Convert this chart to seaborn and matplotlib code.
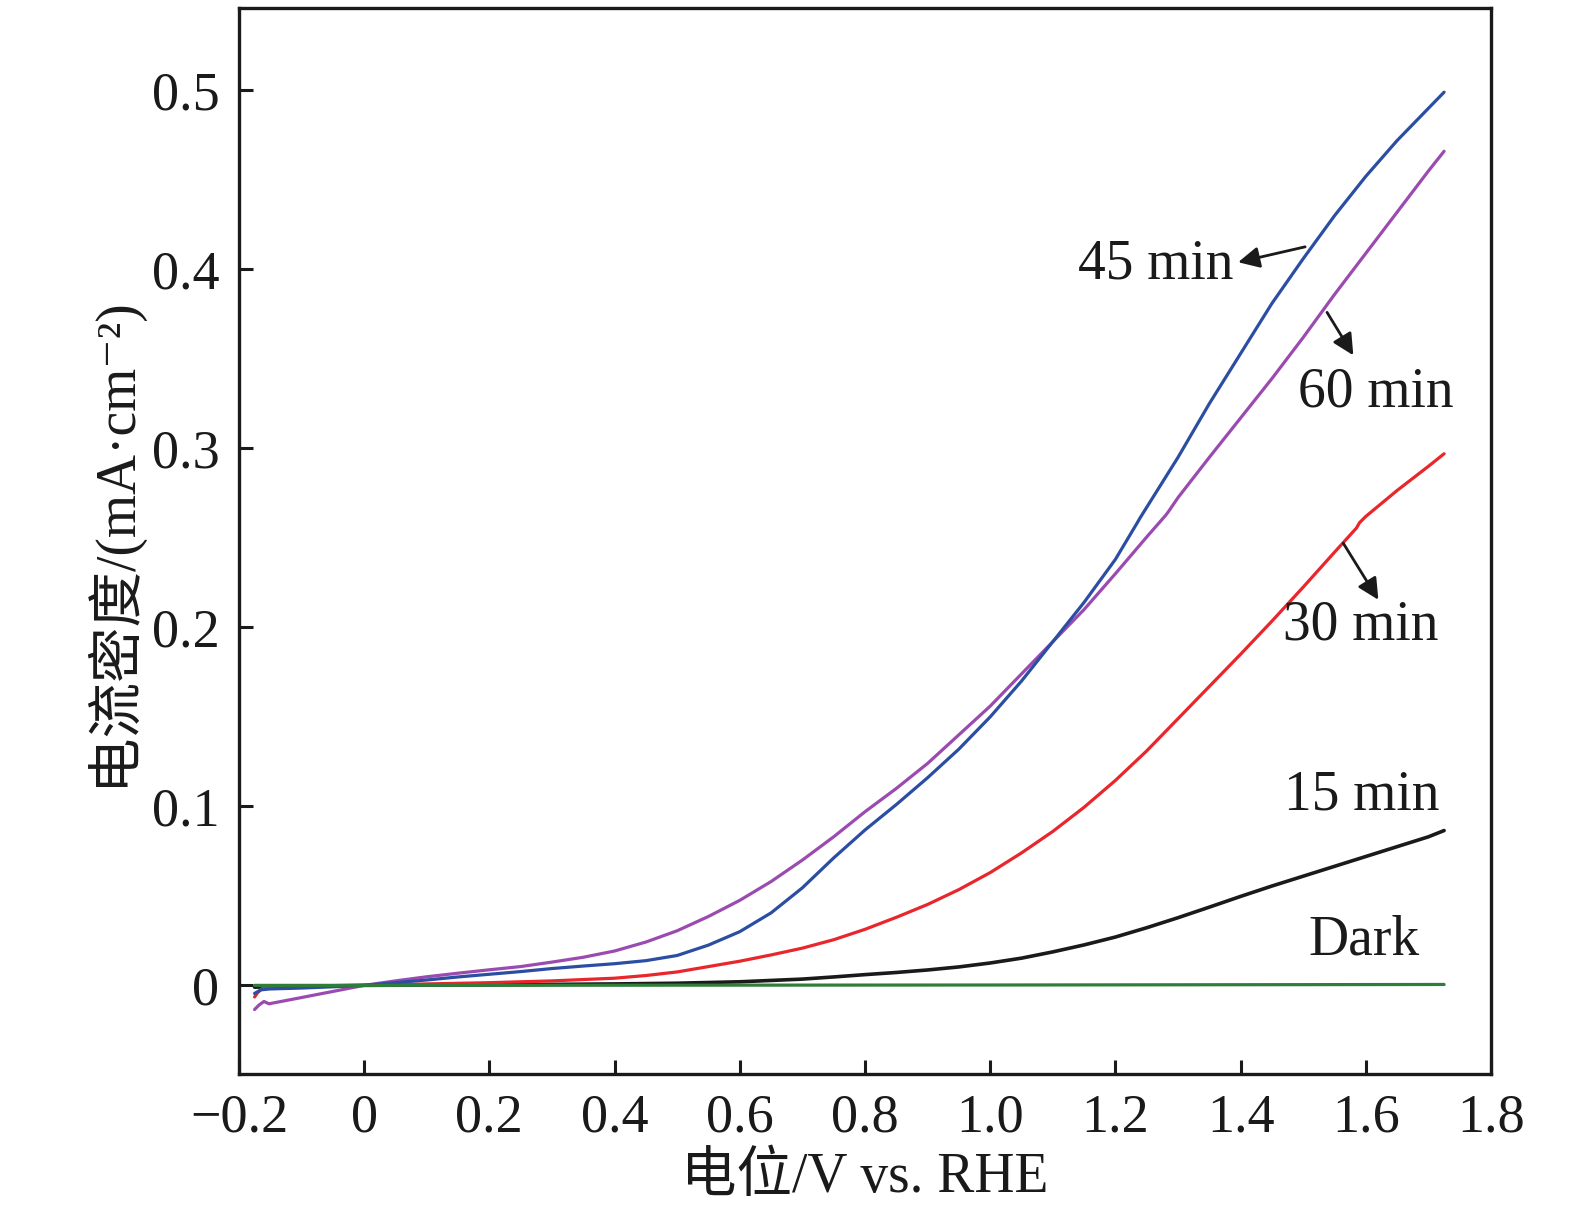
import numpy as np
import pandas as pd
import matplotlib
matplotlib.use("Agg")
import matplotlib.pyplot as plt
import seaborn as sns

# ---------------- data ----------------
x_dark = [-0.175, 0.0, 0.5, 1.0, 1.5, 1.725]
y_dark = [0.0, 0.0, 0.0001, 0.0002, 0.0004, 0.0005]

x_15 = [-0.175, -0.1, 0.0, 0.2, 0.4, 0.5, 0.6, 0.7, 0.75, 0.8, 0.85, 0.9, 0.95, 1.0, 1.05, 1.1,
        1.15, 1.2, 1.25, 1.3, 1.35, 1.4, 1.45, 1.5, 1.55, 1.6, 1.65, 1.7, 1.725]
y_15 = [-0.001, -0.0005, 0.0, 0.0003, 0.0008, 0.0012, 0.002, 0.0035, 0.0047, 0.006, 0.0072, 0.0086,
        0.0103, 0.0125, 0.0152, 0.0187, 0.0226, 0.027, 0.0322, 0.0378, 0.0437, 0.0497, 0.0555,
        0.061, 0.0665, 0.072, 0.0775, 0.083, 0.0865]

x_30 = [-0.175, -0.17, -0.16, -0.1, 0.0, 0.1, 0.2, 0.3, 0.4, 0.45, 0.5, 0.55, 0.6, 0.65, 0.7, 0.75,
        0.8, 0.85, 0.9, 0.95, 1.0, 1.05, 1.1, 1.15, 1.2, 1.25, 1.3, 1.35, 1.4, 1.45, 1.5, 1.55,
        1.585, 1.59, 1.6, 1.65, 1.7, 1.725]
y_30 = [-0.0065, -0.004, -0.001, -0.0005, 0.0, 0.0008, 0.0015, 0.0025, 0.004, 0.0055, 0.0075, 0.0105,
        0.0135, 0.017, 0.0208, 0.0255, 0.0313, 0.038, 0.0452, 0.0535, 0.063, 0.074, 0.086, 0.0995,
        0.1145, 0.131, 0.149, 0.167, 0.185, 0.2035, 0.2225, 0.242, 0.2555, 0.2585, 0.262, 0.2765,
        0.290, 0.297]

x_45 = [-0.175, -0.165, -0.15, -0.1, -0.05, 0.0, 0.05, 0.1, 0.15, 0.2, 0.25, 0.3, 0.35, 0.4, 0.45,
        0.5, 0.55, 0.6, 0.65, 0.7, 0.75, 0.8, 0.85, 0.9, 0.95, 1.0, 1.05, 1.1, 1.15, 1.2, 1.235,
        1.24, 1.3, 1.35, 1.4, 1.45, 1.5, 1.55, 1.6, 1.65, 1.7, 1.725]
y_45 = [-0.0045, -0.0025, -0.002, -0.0015, -0.0008, 0.0, 0.0015, 0.003, 0.0047, 0.0062, 0.0077,
        0.0094, 0.0108, 0.0121, 0.0138, 0.0167, 0.0225, 0.0300, 0.0405, 0.0545, 0.0712, 0.0868,
        0.101, 0.116, 0.132, 0.150, 0.170, 0.192, 0.214, 0.238, 0.2585, 0.2615, 0.295, 0.325, 0.353,
        0.381, 0.406, 0.430, 0.452, 0.472, 0.490, 0.499]

x_60 = [-0.175, -0.168, -0.16, -0.152, -0.1, -0.05, 0.0, 0.05, 0.1, 0.15, 0.2, 0.25, 0.3, 0.35, 0.4,
        0.45, 0.5, 0.55, 0.6, 0.65, 0.7, 0.75, 0.8, 0.85, 0.9, 0.95, 1.0, 1.05, 1.1, 1.15, 1.2,
        1.25, 1.28, 1.285, 1.3, 1.35, 1.4, 1.45, 1.5, 1.55, 1.6, 1.65, 1.7, 1.725]
y_60 = [-0.0135, -0.011, -0.009, -0.0103, -0.0068, -0.0034, 0.0, 0.0025, 0.0048, 0.0068, 0.0087,
        0.0105, 0.013, 0.0157, 0.0192, 0.0242, 0.0305, 0.0385, 0.0475, 0.058, 0.070, 0.083, 0.097,
        0.110, 0.124, 0.140, 0.156, 0.174, 0.192, 0.210, 0.230, 0.2505, 0.2625, 0.2648, 0.2725,
        0.295, 0.317, 0.339, 0.362, 0.386, 0.409, 0.432, 0.455, 0.466]

series_names = ["15 min", "30 min", "60 min", "45 min", "Dark"]
series_colors = ["#1a1a1a", "#e8262b", "#9b4bb0", "#2b4ea3", "#2f7d3a"]

x_ticks = [-0.2, 0.0, 0.2, 0.4, 0.6, 0.8, 1.0, 1.2, 1.4, 1.6, 1.8]
x_ticklabels = ["\u22120.2", "0", "0.2", "0.4", "0.6", "0.8", "1.0", "1.2", "1.4", "1.6", "1.8"]
y_ticks = [0.0, 0.1, 0.2, 0.3, 0.4, 0.5]
y_ticklabels = ["0", "0.1", "0.2", "0.3", "0.4", "0.5"]

x_label = "电位/V vs. RHE"
y_label = "电流密度/(mA·cm⁻²)"

# ---------------- build frame ----------------
frames = []
for name, xs, ys in [("15 min", x_15, y_15), ("30 min", x_30, y_30), ("60 min", x_60, y_60),
                     ("45 min", x_45, y_45), ("Dark", x_dark, y_dark)]:
    frames.append(pd.DataFrame({"E": xs, "J": ys, "series": name}))
df = pd.concat(frames, ignore_index=True)

# ---------------- style ----------------
sns.set_style("ticks")
fam = ["Liberation Serif", "Noto Sans CJK SC", "DejaVu Serif"]
plt.rcParams["font.family"] = fam
plt.rcParams["axes.unicode_minus"] = True

fig = plt.figure(figsize=(15.75, 12.2), dpi=100)
ax = fig.add_axes([0.1517, 0.1197, 0.795, 0.8737])

for name, col in zip(series_names, series_colors):
    sub = df[df["series"] == name]
    lw = 2.6 if name == "15 min" else 2.3
    sns.lineplot(data=sub, x="E", y="J", color=col, lw=lw, ax=ax,
                 sort=False, estimator=None, legend=False)

ax.set_xlim(-0.2, 1.8)
ax.set_ylim(-0.0495, 0.546)
ax.set_xticks(x_ticks)
ax.set_xticklabels(x_ticklabels)
ax.set_yticks(y_ticks)
ax.set_yticklabels(y_ticklabels)

for s in ax.spines.values():
    s.set_visible(True)
    s.set_linewidth(2.4)
    s.set_color("#1a1a1a")
ax.tick_params(axis="both", direction="in", length=10, width=2.2, colors="#1a1a1a",
               labelsize=39, top=False, right=False)
ax.tick_params(axis="x", pad=14)
ax.tick_params(axis="y", pad=14)

ax.set_xlabel(x_label, fontsize=40, labelpad=6, color="#1a1a1a")
ax.set_ylabel(y_label, fontsize=40, labelpad=8, color="#1a1a1a")

# ---------------- annotations ----------------
tfs = 40
ax.text(1.388, 0.403, "45 min", ha="right", va="center", fontsize=tfs, color="#1a1a1a")
ax.text(1.492, 0.331, "60 min", ha="left", va="center", fontsize=tfs, color="#1a1a1a")
ax.text(1.468, 0.201, "30 min", ha="left", va="center", fontsize=tfs, color="#1a1a1a")
ax.text(1.470, 0.106, "15 min", ha="left", va="center", fontsize=tfs, color="#1a1a1a")
ax.text(1.508, 0.025, "Dark", ha="left", va="center", fontsize=tfs, color="#1a1a1a")

arrow = dict(arrowstyle="-|>", color="#1a1a1a", lw=2.0, mutation_scale=32,
             shrinkA=0, shrinkB=0)
ax.annotate("", xy=(1.396, 0.404), xytext=(1.503, 0.4126), arrowprops=arrow)
ax.annotate("", xy=(1.580, 0.352), xytext=(1.538, 0.376), arrowprops=arrow)
ax.annotate("", xy=(1.620, 0.2154), xytext=(1.564, 0.247), arrowprops=arrow)

fig.savefig("out.png", dpi=100, facecolor="white")
